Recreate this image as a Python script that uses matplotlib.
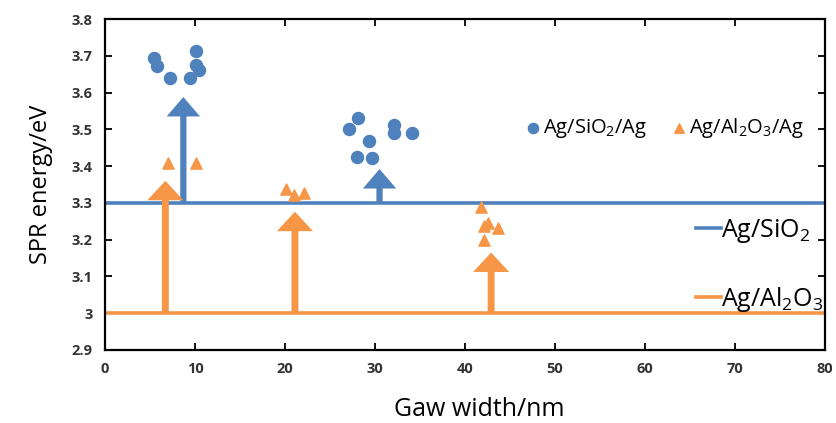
import matplotlib
matplotlib.use("Agg")
import matplotlib.pyplot as plt
from matplotlib.lines import Line2D

BLUE = "#4F81BD"
ORANGE = "#F79646"

plt.rcParams.update({
    "font.family": ["Open Sans", "DejaVu Sans"],
    "mathtext.fontset": "custom",
    "mathtext.rm": "Open Sans",
    "mathtext.it": "Open Sans:italic",
    "mathtext.default": "regular",
})

# Ag/SiO2/Ag measured points
sio2_x = [5.4, 5.8, 7.2, 9.4, 10.1, 10.1, 10.4, 28.1, 27.1, 29.3, 28.0, 29.7, 32.1, 32.1, 34.1]
sio2_y = [3.693, 3.672, 3.64, 3.64, 3.713, 3.675, 3.661, 3.53, 3.50, 3.467, 3.426, 3.421, 3.512, 3.489, 3.489]

# Ag/Al2O3/Ag measured points
al2o3_x = [7.0, 10.1, 20.1, 21.0, 22.1, 41.8, 42.6, 42.1, 43.7, 42.1]
al2o3_y = [3.408, 3.408, 3.337, 3.322, 3.328, 3.29, 3.245, 3.236, 3.231, 3.20]

# bulk reference levels
sio2_level = 3.3
al2o3_level = 3.0

# shift arrows (x, tip)
blue_arrow_x = [8.7, 30.5]
blue_arrow_top = [3.588, 3.392]
orange_arrow_x = [6.7, 21.1, 42.9]
orange_arrow_top = [3.36, 3.276, 3.165]

x_ticks = [0, 10, 20, 30, 40, 50, 60, 70, 80]
y_ticks = [2.9, 3.0, 3.1, 3.2, 3.3, 3.4, 3.5, 3.6, 3.7, 3.8]
y_ticklabels = ["2.9", "3", "3.1", "3.2", "3.3", "3.4", "3.5", "3.6", "3.7", "3.8"]

fig = plt.figure(figsize=(8.37, 4.23), dpi=100)
ax = fig.add_axes([0.1255, 0.1726, 0.8602, 0.7824])

ax.axhline(sio2_level, color=BLUE, lw=2.6, zorder=2)
ax.axhline(al2o3_level, color=ORANGE, lw=2.6, zorder=2)

for x, top in zip(blue_arrow_x, blue_arrow_top):
    ax.annotate("", xy=(x, top), xytext=(x, sio2_level),
                arrowprops=dict(arrowstyle="simple,head_width=24,head_length=14,tail_width=4.5",
                                mutation_scale=1, color=BLUE, lw=0,
                                shrinkA=0, shrinkB=0), zorder=3)
for x, top in zip(orange_arrow_x, orange_arrow_top):
    ax.annotate("", xy=(x, top), xytext=(x, al2o3_level),
                arrowprops=dict(arrowstyle="simple,head_width=26,head_length=14,tail_width=5",
                                mutation_scale=1, color=ORANGE, lw=0,
                                shrinkA=0, shrinkB=0), zorder=3)

pts1 = ax.scatter(sio2_x, sio2_y, s=75, marker="o", color=BLUE, zorder=4,
                  label="Ag/SiO$_2$/Ag")
pts2 = ax.scatter(al2o3_x, al2o3_y, s=65, marker="^", color=ORANGE, zorder=4,
                  label="Ag/Al$_2$O$_3$/Ag")

ax.set_xlim(0, 80)
ax.set_ylim(2.9, 3.8)
ax.set_xticks(x_ticks)
ax.set_yticks(y_ticks)
ax.set_yticklabels(y_ticklabels)
ax.tick_params(direction="in", top=True, right=True, length=5, width=1.3,
               labelsize=10.5, pad=9)
for lab in ax.get_xticklabels() + ax.get_yticklabels():
    lab.set_fontweight("bold")
    lab.set_color("#333333")
for sp in ax.spines.values():
    sp.set_linewidth(1.6)

ax.set_xlabel("Gaw width/nm", fontsize=18, labelpad=15, x=0.52)
ax.set_ylabel("SPR energy/eV", fontsize=17, labelpad=13)

leg1 = ax.legend(handles=[pts1, pts2], loc="center left", bbox_to_anchor=(0.555, 0.67),
                 ncol=2, frameon=False, fontsize=14.5, handletextpad=0.0,
                 handlelength=1.0, columnspacing=1.1, markerscale=0.85)
ax.add_artist(leg1)

h1 = Line2D([], [], color=BLUE, lw=2.6)
h2 = Line2D([], [], color=ORANGE, lw=2.6)
ax.legend([h1, h2], ["Ag/SiO$_2$", "Ag/Al$_2$O$_3$"], loc="upper left",
          bbox_to_anchor=(0.79, 0.47), frameon=False, fontsize=18,
          handlelength=1.0, handletextpad=0.0, labelspacing=1.6)

fig.savefig("out.png", dpi=100)
